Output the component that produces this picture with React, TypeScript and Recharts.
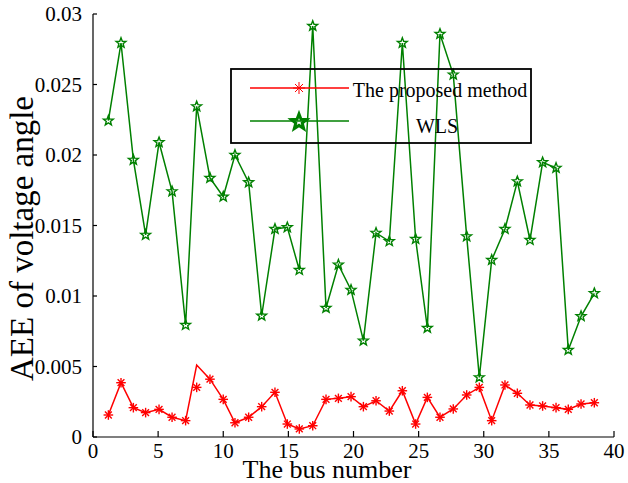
import React from 'react';
import { LineChart, Line, XAxis, YAxis } from 'recharts';

// Bus number (x positions)
const busNumber = [
  1.18, 2.15, 3.1, 4.04, 5.07, 6.07, 7.11, 7.96, 8.98, 10.0,
  10.9, 11.95, 12.95, 13.97, 14.92, 15.84, 16.87, 17.89, 18.84, 19.81,
  20.76, 21.73, 22.75, 23.75, 24.77, 25.67, 26.64, 27.66, 28.69, 29.66,
  30.61, 31.63, 32.58, 33.55, 34.52, 35.55, 36.49, 37.47, 38.49,
];

// The proposed method: line vertices
const proposedLine = [
  0.00156, 0.00385, 0.00208, 0.00173, 0.00196, 0.0014, 0.00116, 0.0051, 0.0041, 0.00267,
  0.00101, 0.0014, 0.00215, 0.00317, 0.00092, 0.00057, 0.0008, 0.00267, 0.00274, 0.00286,
  0.00215, 0.00257, 0.00184, 0.00328, 0.00092, 0.00281, 0.0014, 0.00199, 0.00298, 0.00352,
  0.00116, 0.00369, 0.0031, 0.00227, 0.0022, 0.00208, 0.00196, 0.00234, 0.00243,
];

// The proposed method: marker positions
const proposedMarker = [
  0.00156, 0.00385, 0.00208, 0.00173, 0.00196, 0.0014, 0.00116, 0.00352, 0.0041, 0.00267,
  0.00101, 0.0014, 0.00215, 0.00317, 0.00092, 0.00057, 0.0008, 0.00267, 0.00274, 0.00286,
  0.00215, 0.00257, 0.00184, 0.00328, 0.00092, 0.00281, 0.0014, 0.00199, 0.00298, 0.00352,
  0.00116, 0.00369, 0.0031, 0.00227, 0.0022, 0.00208, 0.00196, 0.00234, 0.00243,
];

// WLS
const wls = [
  0.02243, 0.02794, 0.01965, 0.01433, 0.0209, 0.01742, 0.00794, 0.02345, 0.01837, 0.01704,
  0.02, 0.01806, 0.0086, 0.01475, 0.01487, 0.01184, 0.02915, 0.00915, 0.01222, 0.01043,
  0.00683, 0.01447, 0.01388, 0.02794, 0.01404, 0.00773, 0.02858, 0.0257, 0.01423, 0.00423,
  0.01255, 0.01475, 0.01813, 0.01397, 0.01948, 0.01908, 0.00617, 0.00856, 0.01019,
];

const xTicks = [0, 5, 10, 15, 20, 25, 30, 35, 40];
const yTicks = [0, 0.005, 0.01, 0.015, 0.02, 0.025, 0.03];
const yTickLabels = ['0', '0.005', '0.01', '0.015', '0.02', '0.025', '0.03'];

const data = busNumber.map((b, i) => ({
  bus: b,
  proposed: proposedLine[i],
  proposedMk: proposedMarker[i],
  wls: wls[i],
}));

const FONT = "Liberation Serif";
const RED = '#ff0000';
const GREEN = '#008000';

function starPath(cx: number, cy: number, R: number, r: number) {
  const pts: string[] = [];
  for (let k = 0; k < 10; k++) {
    const rad = k % 2 === 0 ? R : r;
    const a = -Math.PI / 2 + (k * Math.PI) / 5;
    pts.push(`${(cx + rad * Math.cos(a)).toFixed(2)},${(cy + rad * Math.sin(a)).toFixed(2)}`);
  }
  return 'M' + pts.join('L') + 'Z';
}

const AsteriskDot = (props: any) => {
  const { cx, cy, index } = props;
  if (cx == null || cy == null) return <g key={`a-${index}`} />;
  const r = 4.8;
  const d = 3.4;
  return (
    <g key={`a-${index}`} stroke={RED} strokeWidth={1.4}>
      <line x1={cx - r} y1={cy} x2={cx + r} y2={cy} />
      <line x1={cx} y1={cy - r} x2={cx} y2={cy + r} />
      <line x1={cx - d} y1={cy - d} x2={cx + d} y2={cy + d} />
      <line x1={cx - d} y1={cy + d} x2={cx + d} y2={cy - d} />
    </g>
  );
};

const StarDot = (props: any) => {
  const { cx, cy, index } = props;
  if (cx == null || cy == null) return <g key={`s-${index}`} />;
  return (
    <path
      key={`s-${index}`}
      d={starPath(cx, cy, 5.2, 2.2)}
      fill="none"
      stroke={GREEN}
      strokeWidth={1.4}
      strokeLinejoin="miter"
    />
  );
};

const XTick = (props: any) => {
  const { x, y, payload } = props;
  return (
    <text x={x} y={y} dy="0.71em" textAnchor="middle" fontSize={21} fontFamily={FONT} style={{ fontFamily: FONT }} fill="#000">
      {String(payload.value)}
    </text>
  );
};

const YTick = (props: any) => {
  const { x, y, payload } = props;
  const i = yTicks.findIndex((t) => Math.abs(t - payload.value) < 1e-9);
  return (
    <text x={x} y={y} dy="0.355em" textAnchor="end" fontSize={21} fontFamily={FONT} style={{ fontFamily: FONT }} fill="#000">
      {i >= 0 ? yTickLabels[i] : String(payload.value)}
    </text>
  );
};

export default function App() {
  return (
    <div style={{ position: 'absolute', left: 0, top: 0, width: 628, height: 483, background: '#fff', fontFamily: FONT }}>
      <LineChart
        width={628}
        height={483}
        data={data}
        margin={{ top: 14, right: 14, bottom: 0, left: 0 }}
        style={{ fontFamily: FONT }}
      >
        <XAxis
          dataKey="bus"
          type="number"
          domain={[0, 40]}
          ticks={xTicks}
          height={46}
          tickSize={-6}
          tickMargin={12}
          axisLine={{ stroke: '#000', strokeWidth: 1.2 }}
          tickLine={{ stroke: '#000', strokeWidth: 1.2 }}
          tick={XTick}
          interval={0}
        />
        <YAxis
          type="number"
          domain={[0, 0.03]}
          ticks={yTicks}
          width={93}
          tickSize={-4}
          tickMargin={15}
          axisLine={{ stroke: '#000', strokeWidth: 1.2 }}
          tickLine={{ stroke: '#000', strokeWidth: 1.2 }}
          tick={YTick}
          interval={0}
        />
        <Line
          dataKey="wls"
          stroke={GREEN}
          strokeWidth={1.5}
          dot={StarDot}
          activeDot={false}
          isAnimationActive={false}
        />
        <Line
          dataKey="proposed"
          stroke={RED}
          strokeWidth={1.5}
          dot={false}
          activeDot={false}
          isAnimationActive={false}
        />
        <Line
          dataKey="proposedMk"
          stroke="none"
          dot={AsteriskDot}
          activeDot={false}
          isAnimationActive={false}
        />
      </LineChart>
      <svg
        width={628}
        height={483}
        style={{ position: 'absolute', left: 0, top: 0, pointerEvents: 'none', fontFamily: FONT }}
      >
        <rect x={231} y={69} width={300} height={74} fill="none" stroke="#000" strokeWidth={1.8} />
        <line x1={250} y1={88} x2={349} y2={88} stroke={RED} strokeWidth={1.5} />
        <g stroke={RED} strokeWidth={1}>
          <line x1={293} y1={88} x2={305} y2={88} />
          <line x1={299} y1={82} x2={299} y2={94} />
          <line x1={295} y1={84} x2={303} y2={92} />
          <line x1={295} y1={92} x2={303} y2={84} />
        </g>
        <text x={440} y={97} textAnchor="middle" fontSize={20} fill="#000">
          The proposed method
        </text>
        <line x1={250} y1={121} x2={349} y2={121} stroke={GREEN} strokeWidth={1.5} />
        <path d={starPath(299, 122, 8, 3.4)} fill="none" stroke={GREEN} strokeWidth={3} />
        <text x={437} y={132.5} textAnchor="middle" fontSize={20} fill="#000">
          WLS
        </text>
        <text
          x={0}
          y={0}
          transform="translate(33,238.5) rotate(-90)"
          textAnchor="middle"
          fontSize={33}
          fill="#000"
        >
          AEE of voltage angle
        </text>
        <text x={327} y={478} textAnchor="middle" fontSize={26} fill="#000">
          The bus number
        </text>
      </svg>
    </div>
  );
}
